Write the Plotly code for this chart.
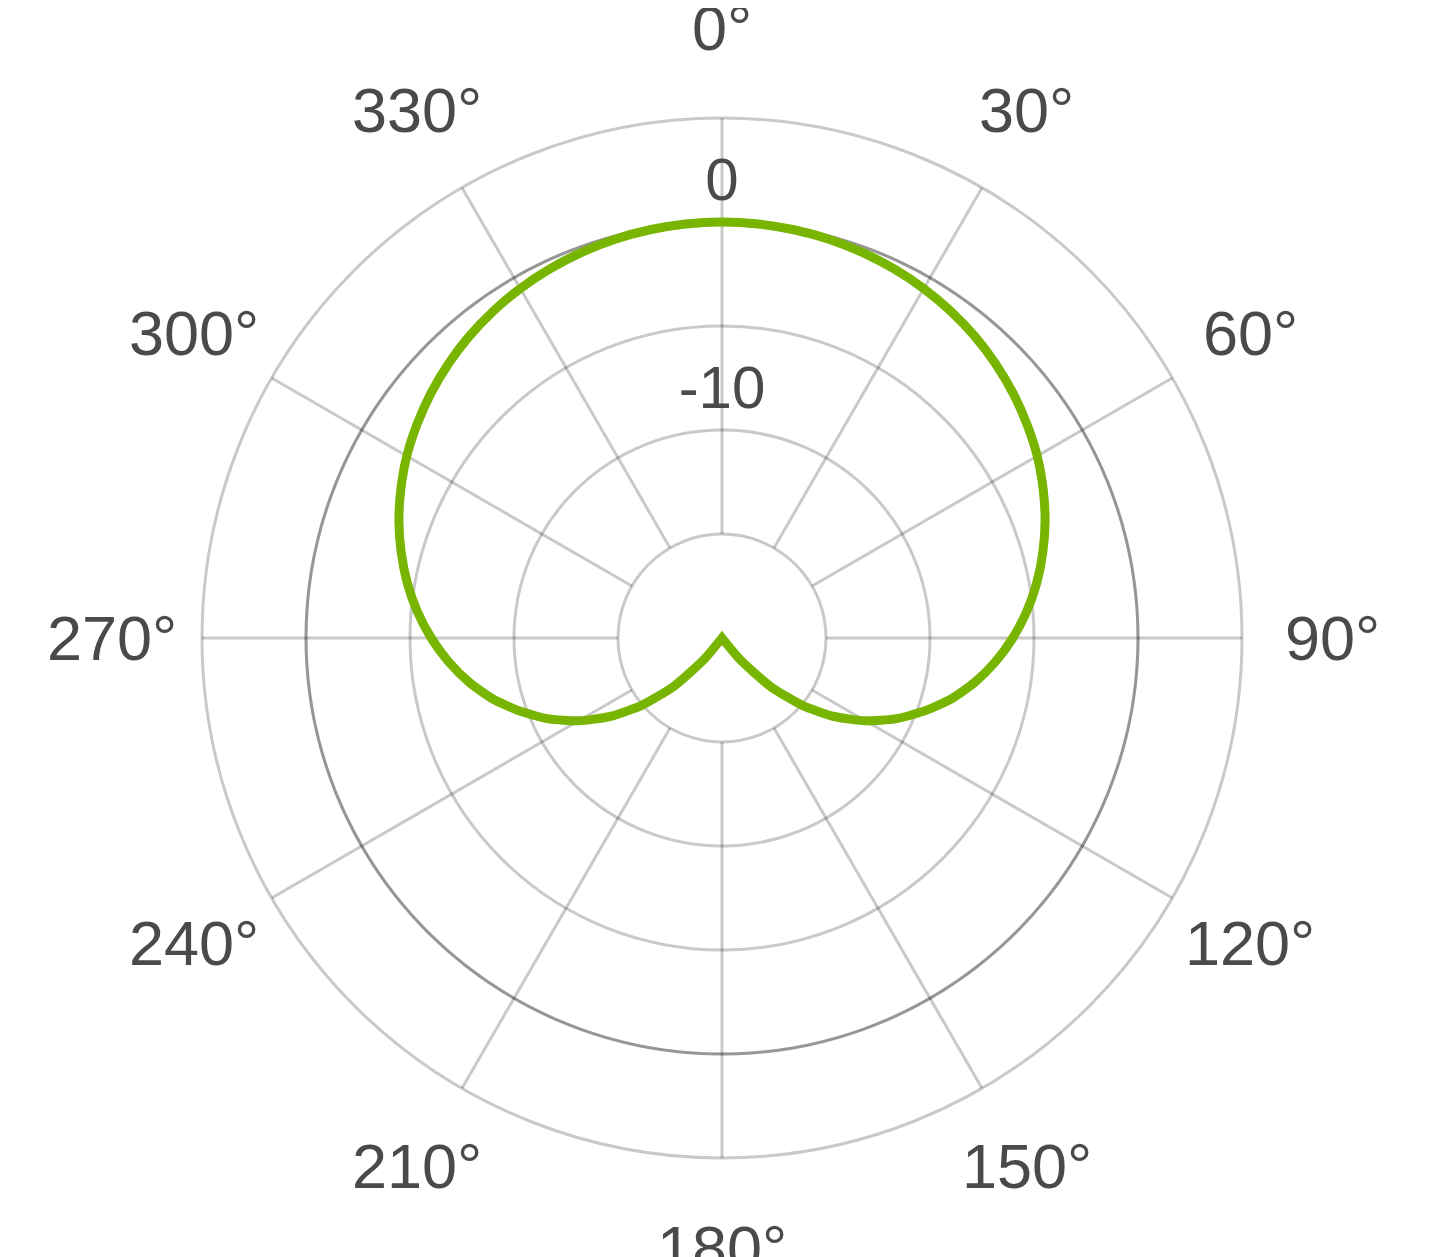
import math
import plotly.graph_objects as go

# polar pickup pattern, level in dB, read every 5 degrees
angles = list(range(0, 361, 5))
level_db = [0.0, -0.02, -0.07, -0.15, -0.27, -0.42, -0.6, -0.82, -1.08, -1.38,
            -1.72, -2.1, -2.5, -2.97, -3.47, -4.03, -4.63, -5.29, -6.02,
            -6.81, -7.67, -8.62, -9.69, -10.8, -12.04, -13.42, -14.96, -16.7,
            -18.64, -20.0, -20.0, -20.0, -20.0, -20.0, -20.0, -20.0, -20.0,
            -20.0, -20.0, -20.0, -20.0, -20.0, -20.0, -20.0, -18.64, -16.7,
            -14.96, -13.42, -12.04, -10.8, -9.69, -8.62, -7.67, -6.81, -6.02,
            -5.29, -4.63, -4.03, -3.47, -2.97, -2.5, -2.1, -1.72, -1.38, -1.08,
            -0.82, -0.6, -0.42, -0.27, -0.15, -0.07, -0.02, 0.0]

# axis stuff
r_range = [-20, 5]
ring_vals = [-15, -10, -5, 0]
radial_labels = [0, -10]
spoke_angles = list(range(0, 360, 30))
angle_labels = [str(a) + "°" for a in spoke_angles]

grid_col = "rgba(0,0,0,0.21)"
dark_col = "rgba(0,0,0,0.25)"
text_col = "#4a4a4a"
font_fam = "Liberation Sans, Arial, sans-serif"

W, H = 1429, 1257
mar = dict(l=0, r=1, t=110, b=107)
plot_w = W - mar["l"] - mar["r"]
plot_h = H - mar["t"] - mar["b"]
rad_px = min(plot_w, plot_h) / 2
label_px = rad_px + 90

fig = go.Figure()

# spokes from the -15 ring out to the edge
sp_r, sp_t = [], []
for a in spoke_angles:
    sp_r += [ring_vals[0], r_range[1], None]
    sp_t += [a, a, None]
fig.add_trace(go.Scatterpolar(r=sp_r, theta=sp_t, mode="lines",
                              line=dict(color=grid_col, width=3),
                              hoverinfo="skip"))

# 0 dB reference ring, darker
ring_t = list(range(0, 361, 2))
fig.add_trace(go.Scatterpolar(r=[0] * len(ring_t), theta=ring_t, mode="lines",
                              line=dict(color=dark_col, width=3),
                              hoverinfo="skip"))

# the pattern
fig.add_trace(go.Scatterpolar(r=level_db, theta=angles, mode="lines",
                              line=dict(color="#77b500", width=9, shape="spline",
                                        smoothing=0.6)))

# radial labels on the 0 deg spoke
fig.add_trace(go.Scatterpolar(r=radial_labels, theta=[0] * len(radial_labels),
                              mode="markers+text", text=[str(v) for v in radial_labels],
                              marker=dict(size=9, color="rgba(0,0,0,0)"),
                              textposition="top center",
                              textfont=dict(size=60, color=text_col, family=font_fam),
                              hoverinfo="skip"))

# angle labels centred on a ring just outside the edge
for a, lab in zip(spoke_angles, angle_labels):
    t = math.radians(a)
    fig.add_annotation(x=0.5 + label_px * math.sin(t) / plot_w,
                       y=0.5 + label_px * math.cos(t) / plot_h,
                       xref="paper", yref="paper", text=lab, showarrow=False,
                       xanchor="center", yanchor="middle",
                       font=dict(size=63, color=text_col, family=font_fam))

fig.update_layout(
    width=W, height=H,
    margin=mar,
    paper_bgcolor="white",
    showlegend=False,
    polar=dict(
        bgcolor="white",
        radialaxis=dict(range=r_range, tickvals=ring_vals, showticklabels=False,
                        ticks="", showline=False, gridcolor=grid_col, gridwidth=3),
        angularaxis=dict(rotation=90, direction="clockwise", showgrid=False,
                         showticklabels=False, ticks="", showline=True,
                         linecolor=grid_col, linewidth=3),
    ),
)

fig.write_html("out.html")
